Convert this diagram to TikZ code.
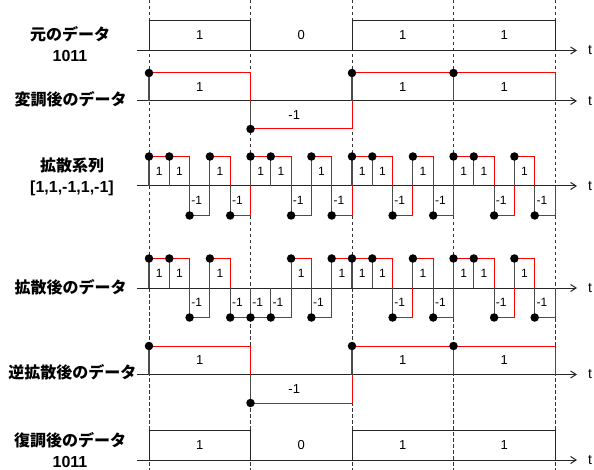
\documentclass[tikz,border=0pt]{standalone}
\usepackage{fontspec}
\setmainfont{Liberation Sans}
\newfontfamily\jpfont{Noto Sans CJK JP}
\usepackage{tikz}
\usetikzlibrary{arrows.meta}

\begin{document}
\begin{tikzpicture}[x=1pt, y=-1pt,
    timeaxis/.style={draw=black!85, line width=1pt, -{Straight Barb[length=5.5pt,width=7pt]}},
    slot/.style={draw=black!80, line width=0.9pt, dash pattern=on 3.5pt off 2.5pt},
    pulse/.style={draw=black!85, line width=1pt},
    hold/.style={draw=red, line width=1pt},
    stem/.style={draw=black!70, line width=1.1pt},
    dot/.style={circle, fill=black, inner sep=0pt, minimum size=8.5pt},
    val/.style={font=\fontsize{13}{15}\selectfont},
    chipval/.style={font=\fontsize{12}{14}\selectfont},
    rowname/.style={align=center, inner sep=1pt, font=\fontsize{16}{21}\selectfont\bfseries}]
    \useasboundingbox (0,0) rectangle (594,470);

    % bit boundaries
    \foreach \x in {149,250.5,352,453.5,555}
        \draw[slot] (\x,0) -- (\x,470);

    % time axes
    \foreach \y [count=\i] in {50.5,101,186,288,374.5,460} {
        \draw[timeaxis] (137,\y) -- (577,\y);
        \node (t\i) at (590,\y) {\fontsize{14}{16}\selectfont t};
    }

    % original and demodulated data 1011
    \foreach \ax/\tp/\r in {50.5/20.5/a, 460/430/f} {
        \draw[pulse] (149,\ax) -- (149,\tp) -- (250.5,\tp) -- (250.5,\ax);
        \draw[pulse] (352,\ax) -- (352,\tp) -- (555,\tp) -- (555,\ax);
        \foreach \b [count=\k from 0] in {1,0,1,1}
            \node[val] (\r\k) at ({199.75+101.5*\k},{(\ax+\tp)/2}) {\b};
    }

    % modulated and despread data
    \foreach \ax/\amp/\r in {101/28/b, 374.5/28.5/e} {
        \foreach \v [count=\k from 0] in {1,-1,1,1} {
            \draw[hold] ({149+101.5*\k},{\ax-\v*\amp}) -- ({250.5+101.5*\k},{\ax-\v*\amp}) -- ({250.5+101.5*\k},\ax);
            \draw[stem] ({149+101.5*\k},\ax) -- ({149+101.5*\k},{\ax-\v*\amp});
            \node[dot] (\r d\k) at ({149+101.5*\k},{\ax-\v*\amp}) {};
            \node[val] (\r\k) at ({199.75+101.5*\k-(\v<0)*7},{\ax-\v*\amp/2}) {\v};
        }
    }

    % spreading code
    \foreach \v [count=\k from 0] in {1,1,-1,1,-1, 1,1,-1,1,-1, 1,1,-1,1,-1, 1,1,-1,1,-1} {
        \draw[hold] ({149+20.3*\k},{186-\v*29.5}) -- ({169.3+20.3*\k},{186-\v*29.5}) -- ({169.3+20.3*\k},186);
        \draw[stem] ({149+20.3*\k},186) -- ({149+20.3*\k},{186-\v*29.5});
        \node[dot] (cd\k) at ({149+20.3*\k},{186-\v*29.5}) {};
        \node[chipval] (c\k) at ({159.15+20.3*\k-(\v<0)*3},{186-\v*14.75}) {\v};
    }

    % spread data
    \foreach \v [count=\k from 0] in {1,1,-1,1,-1, -1,-1,1,-1,1, 1,1,-1,1,-1, 1,1,-1,1,-1} {
        \draw[hold] ({149+20.3*\k},{288-\v*29.5}) -- ({169.3+20.3*\k},{288-\v*29.5}) -- ({169.3+20.3*\k},288);
        \draw[stem] ({149+20.3*\k},288) -- ({149+20.3*\k},{288-\v*29.5});
        \node[dot] (dd\k) at ({149+20.3*\k},{288-\v*29.5}) {};
        \node[chipval] (d\k) at ({159.15+20.3*\k-(\v<0)*3},{288-\v*14.75}) {\v};
    }

    % row names
    \node[rowname] (orig) at (70,44.5) {{\jpfont 元のデータ}\\1011};
    \node[rowname] (mod) at (70.5,99) {\jpfont 変調後のデータ};
    \node[rowname] (code) at (72,177) {{\jpfont 拡散系列}\\{[1,1,-1,1,-1]}};
    \node[rowname] (spread) at (70.5,287) {\jpfont 拡散後のデータ};
    \node[rowname] (despread) at (72.5,372) {\jpfont 逆拡散後のデータ};
    \node[rowname] (demod) at (70,450) {{\jpfont 復調後のデータ}\\1011};
\end{tikzpicture}
\end{document}
